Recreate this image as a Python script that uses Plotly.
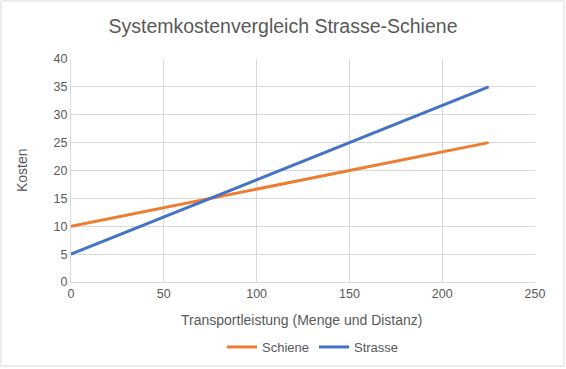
import plotly.graph_objects as go

x_vals = [0, 225]
schiene = [10, 25]
strasse = [5, 35]
x_ticks = [0, 50, 100, 150, 200, 250]
y_ticks = [0, 5, 10, 15, 20, 25, 30, 35, 40]

W, H = 566, 369
L, R, T, B = 71, 31, 59, 87
pw, ph = W - L - R, H - T - B

font = "Liberation Sans"
fig = go.Figure()
fig.add_trace(go.Scatter(x=x_vals, y=schiene, mode="lines", name="Schiene",
                         line=dict(color="#ED7D31", width=3)))
fig.add_trace(go.Scatter(x=x_vals, y=strasse, mode="lines", name="Strasse",
                         line=dict(color="#4472C4", width=3)))

def px_x(p):
    return (p - L) / pw

def px_y(p):
    return (H - B - p) / ph

fig.update_layout(
    width=W, height=H,
    margin=dict(l=L, r=R, t=T, b=B, autoexpand=False),
    paper_bgcolor="white", plot_bgcolor="white",
    font=dict(family=font, color="#595959", size=12),
    title=dict(text="Systemkostenvergleich Strasse-Schiene", x=0.5, xanchor="center",
               y=1 - 26 / H, yanchor="middle",
               font=dict(size=19.5, color="#595959", family=font)),
    xaxis=dict(range=[0, 250], tickvals=x_ticks, showgrid=True, gridcolor="#d9d9d9",
               zeroline=False, showline=True, linecolor="#d9d9d9", ticks="",
               automargin=False,
               tickfont=dict(size=12.5, color="#595959")),
    yaxis=dict(range=[0, 40], tickvals=y_ticks, showgrid=True, gridcolor="#d9d9d9",
               zeroline=False, showline=True, linecolor="#d9d9d9", ticks="",
               automargin=False,
               tickfont=dict(size=12.5, color="#595959")),
    legend=dict(orientation="h", x=px_x(313), xanchor="center", y=px_y(347), yanchor="middle",
                font=dict(size=13, color="#595959"), itemwidth=30, tracegroupgap=0),
    showlegend=True,
)
fig.add_annotation(text="Transportleistung (Menge und Distanz)", xref="paper", yref="paper",
                   x=px_x(301.5), y=px_y(320), xanchor="center", yanchor="middle",
                   showarrow=False, font=dict(size=14, color="#595959"))
fig.add_annotation(text="Kosten", xref="paper", yref="paper", textangle=-90,
                   x=px_x(22), y=px_y(170), xanchor="center", yanchor="middle",
                   showarrow=False, font=dict(size=14, color="#595959"))
fig.add_shape(type="rect", xref="paper", yref="paper",
              x0=px_x(1), x1=px_x(564), y0=px_y(366), y1=px_y(1),
              line=dict(color="#d9d9d9", width=1), layer="below")
fig.write_html("out.html", config={"displayModeBar": False},
               post_script="document.body.style.margin='0px';document.body.style.overflow='hidden';")
